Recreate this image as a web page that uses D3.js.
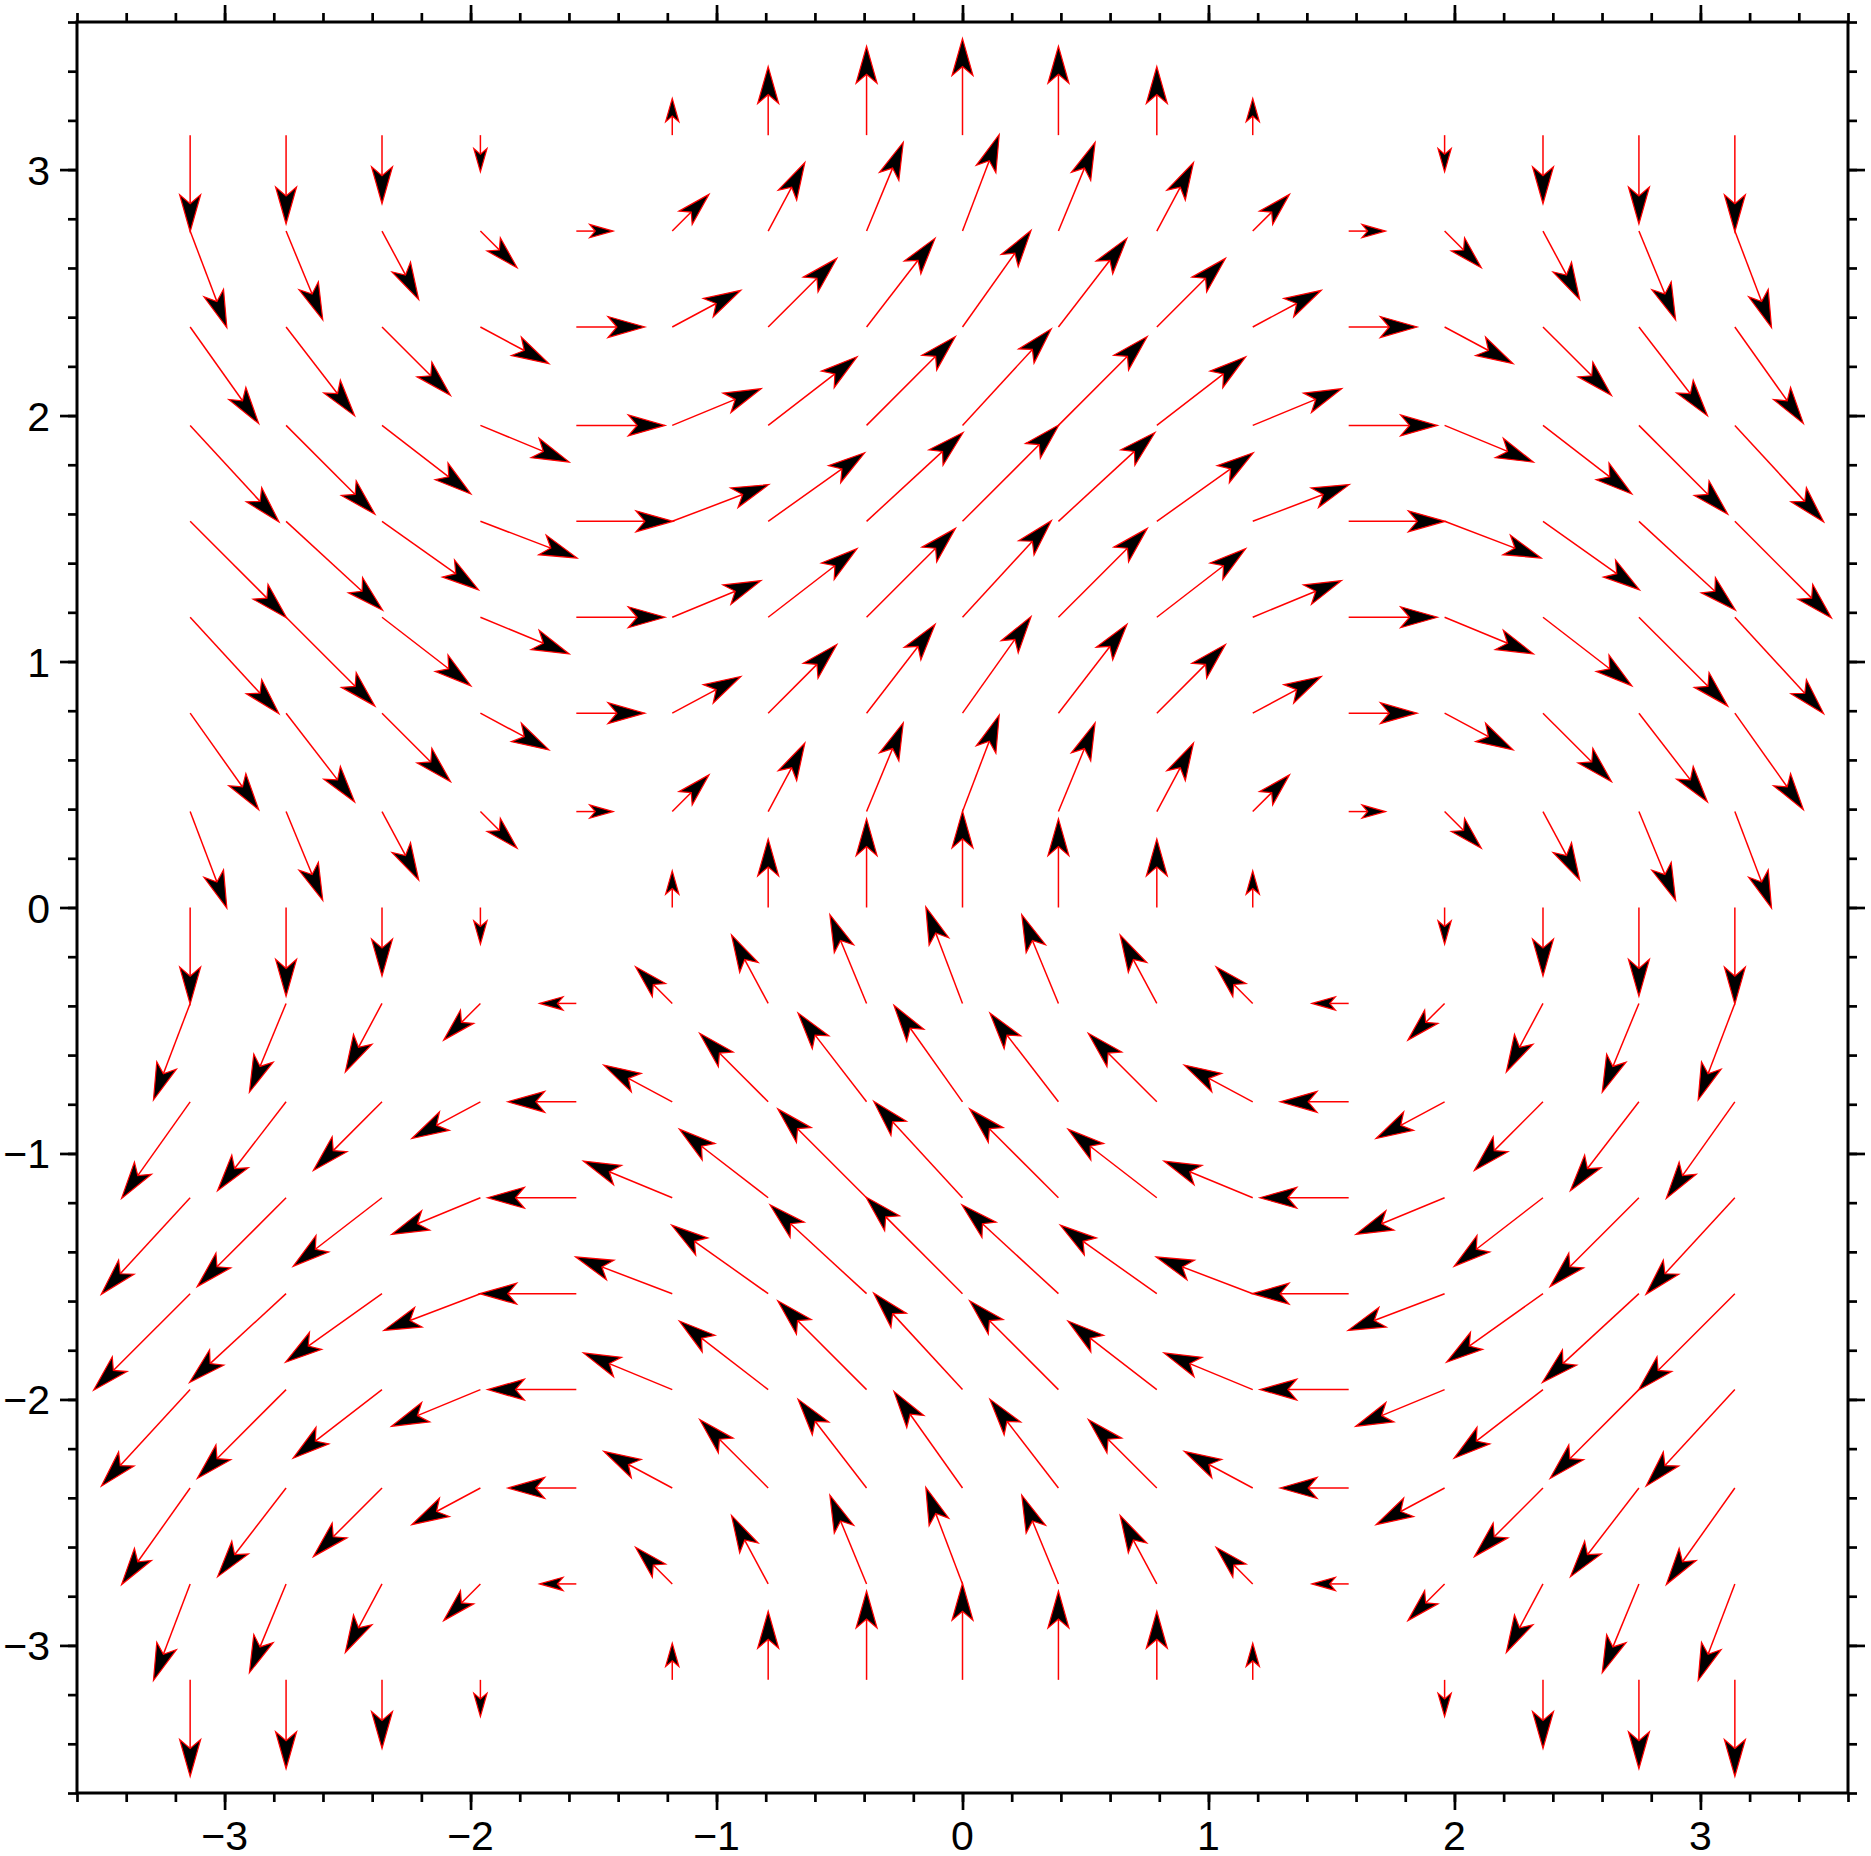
<!DOCTYPE html>
<html>
<head>
<meta charset="utf-8">
<script src="https://cdn.jsdelivr.net/npm/d3@7"></script>
<style>
  html, body { margin: 0; padding: 0; background: #fff; }
  svg { display: block; }
</style>
</head>
<body>
<svg id="chart" width="1871" height="1856"></svg>
<script>
// Grid positions (x columns, y rows)
const xs = [-3.14, -2.75, -2.36, -1.96, -1.57, -1.18, -0.79, -0.39, 0, 0.39, 0.79, 1.18, 1.57, 1.96, 2.36, 2.75, 3.14];
const ys = [-3.14, -2.75, -2.36, -1.96, -1.57, -1.18, -0.79, -0.39, 0, 0.39, 0.79, 1.18, 1.57, 1.96, 2.36, 2.75, 3.14];
// Horizontal component, read per row (same across a row)
const uByRow = [0, -0.38, -0.71, -0.92, -1, -0.92, -0.71, -0.38, 0, 0.38, 0.71, 0.92, 1, 0.92, 0.71, 0.38, 0];
// Vertical component, read per column (same down a column)
const vByCol = [-1, -0.92, -0.71, -0.38, 0, 0.38, 0.71, 0.92, 1, 0.92, 0.71, 0.38, 0, -0.38, -0.71, -0.92, -1];
// Axis ticks
const majorTicks = [-3, -2, -1, 0, 1, 2, 3];
const minorTicks = d3.range(-36, 37, 2).map(d => d / 10);
const domain = [-3.6, 3.6];

const svg = d3.select("#chart");
const mLeft = 77, mTop = 22, size = 1771;
const sx = d3.scaleLinear().domain(domain).range([mLeft, mLeft + size]);
const sy = d3.scaleLinear().domain(domain).range([mTop + size, mTop]);

const vecScale = 0.3927; // data units per unit magnitude
const normPx = 58, headLenFull = 37, notchFull = 28, halfWFull = 10.5;

const vectors = [];
ys.forEach((y, i) => xs.forEach((x, j) => {
  vectors.push({ x, y, u: uByRow[i], v: vByCol[j] });
}));

const gV = svg.append("g");
vectors.forEach(d => {
  const m = Math.hypot(d.u, d.v);
  if (m < 0.01) return;
  const x0 = sx(d.x), y0 = sy(d.y);
  const x1 = sx(d.x + d.u * vecScale), y1 = sy(d.y + d.v * vecScale);
  const len = Math.hypot(x1 - x0, y1 - y0);
  const dx = (x1 - x0) / len, dy = (y1 - y0) / len;
  const nx = -dy, ny = dx;
  const s = Math.min(1, len / normPx);
  const hl = headLenFull * s, nt = notchFull * s, hw = halfWFull * s;
  const bx = x1 - dx * hl, by = y1 - dy * hl;
  const mx = x1 - dx * nt, my = y1 - dy * nt;
  gV.append("line")
    .attr("x1", x0).attr("y1", y0).attr("x2", mx).attr("y2", my)
    .attr("stroke", "#ff0000").attr("stroke-width", 1.5);
  const pts = [[x1, y1], [bx + nx * hw, by + ny * hw], [mx, my], [bx - nx * hw, by - ny * hw]];
  gV.append("path")
    .attr("d", "M" + pts.map(p => p.join(",")).join("L") + "Z")
    .attr("fill", "#000").attr("stroke", "#ff0000").attr("stroke-width", 1.2)
    .attr("stroke-linejoin", "miter");
});

// Axes: ticks outward on all four sides
function axisTicks(axisGen, transform, scale) {
  const gMinor = svg.append("g").attr("transform", transform)
    .call(axisGen(scale).tickValues(minorTicks).tickSize(9).tickFormat(""));
  const gMajor = svg.append("g").attr("transform", transform)
    .call(axisGen(scale).tickValues(majorTicks).tickSize(17).tickFormat(""));
  [gMinor, gMajor].forEach(g => {
    g.select(".domain").remove();
    g.selectAll(".tick line").attr("stroke", "#000").attr("stroke-width", 2.7);
  });
}
axisTicks(d3.axisBottom, `translate(0,${mTop + size})`, sx);
axisTicks(d3.axisTop, `translate(0,${mTop})`, sx);
axisTicks(d3.axisLeft, `translate(${mLeft},0)`, sy);
axisTicks(d3.axisRight, `translate(${mLeft + size},0)`, sy);

const fmt = d => (d < 0 ? "\u2212" + Math.abs(d) : String(d));
svg.append("g").selectAll("text").data(majorTicks).join("text")
  .attr("x", d => sx(d)).attr("y", mTop + size + 57)
  .attr("text-anchor", "middle")
  .attr("font-family", "Liberation Sans, Arial, sans-serif").attr("font-size", 41)
  .text(fmt);
svg.append("g").selectAll("text").data(majorTicks).join("text")
  .attr("x", mLeft - 27).attr("y", d => sy(d) + 15)
  .attr("text-anchor", "end")
  .attr("font-family", "Liberation Sans, Arial, sans-serif").attr("font-size", 41)
  .text(fmt);

// Frame
svg.append("rect")
  .attr("x", mLeft).attr("y", mTop).attr("width", size).attr("height", size)
  .attr("fill", "none").attr("stroke", "#000").attr("stroke-width", 3);
</script>
</body>
</html>
